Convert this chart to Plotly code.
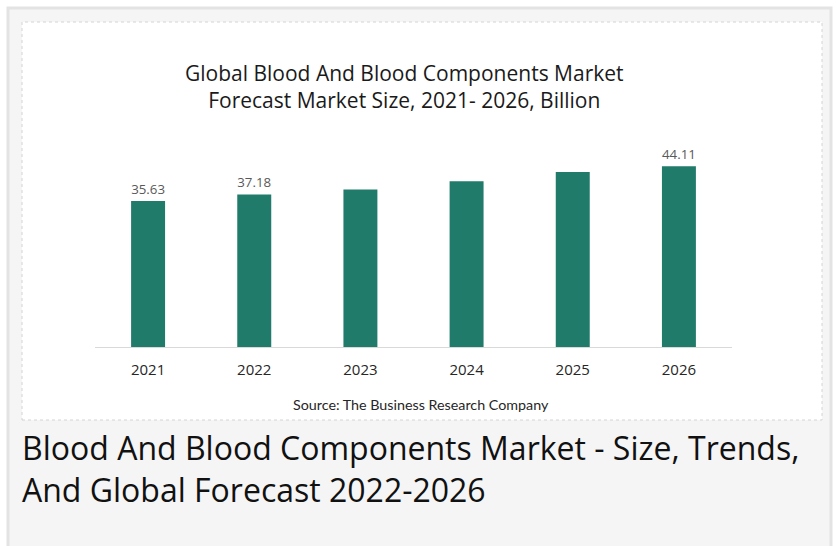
import plotly.graph_objects as go

W, H = 836, 546

years = ["2021", "2022", "2023", "2024", "2025", "2026"]
values = [35.63, 37.18, 38.4, 40.4, 42.7, 44.11]
show_label = [True, True, False, False, False, True]

bar_color = "#217B6B"

def px(x):
    return x / W

def py(y):
    return 1 - y / H

labels = [f"{v:.2f}" if s else "" for v, s in zip(values, show_label)]

fig = go.Figure()
fig.add_trace(go.Bar(
    x=years, y=values,
    marker=dict(color=bar_color, line=dict(width=0)),
    text=labels, textposition="outside",
    textfont=dict(family="Open Sans", size=15.5, color="#595959"),
    cliponaxis=False,
    width=0.32,
    hoverinfo="skip",
))

shapes = [
    # outer grey panel
    dict(type="rect", xref="paper", yref="paper", x0=px(8), x1=px(831), y0=py(560), y1=py(8),
         fillcolor="#f5f5f5", line=dict(color="#e3e3e3", width=3), layer="below"),
    # inner white chart box
    dict(type="rect", xref="paper", yref="paper", x0=px(22), x1=px(822), y0=py(420), y1=py(22),
         fillcolor="#ffffff", line=dict(color="#d4d4d4", width=1, dash="dot"), layer="below"),
]

annotations = [
    dict(text="Global Blood And Blood Components Market<br>Forecast Market Size, 2021- 2026, Billion",
         xref="paper", yref="paper", x=px(404), y=py(86), xanchor="center", yanchor="middle",
         showarrow=False, align="center",
         font=dict(family="Open Sans", size=21, color="#1a1a1a")),
    dict(text="Source: The Business Research Company",
         xref="paper", yref="paper", x=px(421), y=py(404), xanchor="center", yanchor="middle",
         showarrow=False, font=dict(family="Lato", size=14.3, color="#262626")),
    dict(text="Blood And Blood Components Market - Size, Trends,<br>And Global Forecast 2022-2026",
         xref="paper", yref="paper", x=px(20), y=py(469), xanchor="left", yanchor="middle",
         showarrow=False, align="left",
         font=dict(family="Open Sans", size=32, color="#111111")),
]

fig.update_layout(
    width=W, height=H,
    margin=dict(l=0, r=0, t=0, b=0),
    paper_bgcolor="#ffffff",
    plot_bgcolor="rgba(0,0,0,0)",
    showlegend=False,
    shapes=shapes,
    annotations=annotations,
    xaxis=dict(domain=[px(95), px(732)], showgrid=False, zeroline=False,
               showline=True, linecolor="#d9d9d9", linewidth=1,
               ticks="", ticklabelstandoff=9, fixedrange=True,
               tickfont=dict(family="Open Sans", size=15, color="#262626")),
    yaxis=dict(domain=[py(347), py(142)], range=[0, 50], showgrid=False, fixedrange=True,
               zeroline=False, showticklabels=False, showline=False, ticks=""),
)

fig.write_html("out.html", config={"displayModeBar": False},
               post_script="document.body.style.margin='0';")
